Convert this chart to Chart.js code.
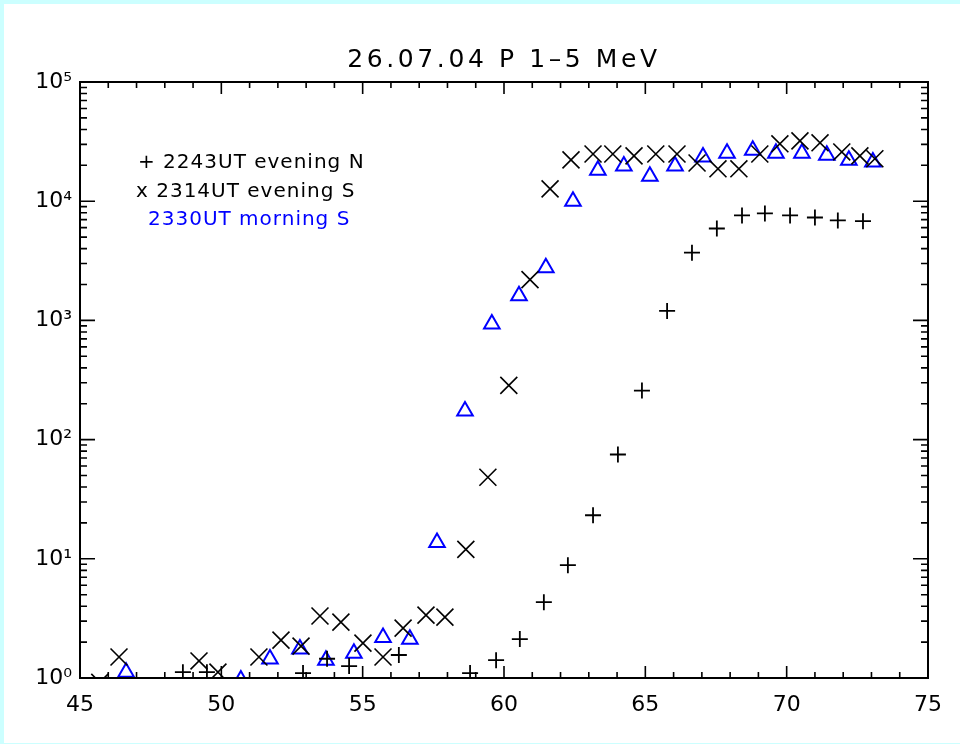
<!DOCTYPE html>
<html>
<head>
<meta charset="utf-8">
<script src="https://cdn.jsdelivr.net/npm/chart.js@4"></script>
<style>
  html, body { margin: 0; padding: 0; background: #ffffff; }
  #wrap { width: 960px; height: 744px; }
</style>
</head>
<body>
<div id="wrap"><canvas id="chart" width="960" height="744"></canvas></div>
<script>
// 26.07.04 P 1-5 MeV, three passes

const titleText = '26.07.04 P 1\u20135 MeV';

// + 2243UT evening N
const timeN = [48.64, 49.49, 52.89, 53.74, 54.52, 56.28, 58.80, 59.72, 60.56, 61.41, 62.26, 63.15, 64.03, 64.88, 65.77, 66.65, 67.53, 68.42, 69.23, 70.12, 71.00, 71.81, 72.70];
const fluxN = [1.12, 1.12, 1.10, 1.45, 1.26, 1.56, 1.10, 1.41, 2.12, 4.33, 8.84, 23.2, 75, 258, 1200, 3700, 5900, 7600, 7900, 7600, 7300, 6900, 6800];

// x 2314UT evening S
const timeS1 = [45.70, 46.38, 49.21, 49.88, 51.33, 52.11, 52.82, 53.49, 54.23, 55.01, 55.72, 56.43, 57.24, 57.91, 58.65, 59.43, 60.17, 60.92, 61.63, 62.37, 63.15, 63.85, 64.60, 65.37, 66.12, 66.83, 67.57, 68.31, 69.05, 69.76, 70.47, 71.18, 71.95, 72.59, 73.12];
const fluxS1 = [0.92, 1.50, 1.39, 1.12, 1.50, 2.08, 1.85, 3.31, 2.94, 1.96, 1.50, 2.62, 3.37, 3.24, 12.0, 48.3, 285, 2200, 12700, 22200, 24900, 24900, 24000, 24900, 24900, 20900, 18700, 18700, 24900, 30300, 32100, 30900, 25900, 24000, 22700];

// triangles 2330UT morning S
const timeS2 = [46.63, 50.69, 51.72, 52.78, 53.70, 54.69, 55.72, 56.67, 57.63, 58.62, 59.57, 60.53, 61.48, 62.44, 63.32, 64.24, 65.16, 66.05, 67.04, 67.89, 68.80, 69.62, 70.54, 71.42, 72.20, 73.05];
const fluxS2 = [1.12, 0.96, 1.44, 1.75, 1.41, 1.61, 2.19, 2.11, 13.7, 174, 935, 1610, 2760, 10000, 18200, 19700, 16200, 19700, 23500, 25200, 26800, 25200, 25200, 24300, 22100, 21300];

const seriesLabels = ['2243UT evening N', '2314UT evening S', '2330UT morning S'];
const legendPrefix = ['+ ', 'x ', ''];

const xTickValues = [45, 50, 55, 60, 65, 70, 75];
const yTickValues = [1, 10, 100, 1000, 10000, 100000];
const yTickLabels = ['10\u2070', '10\u00b9', '10\u00b2', '10\u00b3', '10\u2074', '10\u2075'];

const BLUE = '#0000ff';
const FONT = '"DejaVu Sans", sans-serif';

function toPoints(xs, ys) {
  return xs.map((x, i) => ({ x: x, y: ys[i] }));
}

// cyan frame, title, legend text, axis box with inward IDL ticks
const idlFrame = {
  id: 'idlFrame',
  beforeDraw(chart) {
    const ctx = chart.ctx;
    ctx.save();
    ctx.fillStyle = '#ccffff';
    ctx.fillRect(0, 0, chart.width, chart.height);
    ctx.fillStyle = '#ffffff';
    ctx.fillRect(4, 4, chart.width - 4, chart.height - 5);
    ctx.restore();
  },
  afterDraw(chart) {
    const ctx = chart.ctx;
    const a = chart.chartArea;
    const xs = chart.scales.x;
    const ys = chart.scales.y;
    ctx.save();
    ctx.strokeStyle = '#000';
    ctx.lineWidth = 2;
    ctx.strokeRect(a.left, a.top, a.right - a.left, a.bottom - a.top);

    ctx.lineWidth = 1.6;
    ctx.beginPath();
    // x ticks, every unit, major every 5
    for (let v = 45; v <= 75; v++) {
      const px = xs.getPixelForValue(v);
      const len = v % 5 === 0 ? 12 : 6;
      ctx.moveTo(px, a.bottom); ctx.lineTo(px, a.bottom - len);
      ctx.moveTo(px, a.top); ctx.lineTo(px, a.top + len);
    }
    // y ticks, decades and 2..9
    for (let d = 0; d < 5; d++) {
      for (let m = 1; m <= 9; m++) {
        const v = m * Math.pow(10, d);
        const py = ys.getPixelForValue(v);
        const len = m === 1 ? 15 : 7;
        ctx.moveTo(a.left, py); ctx.lineTo(a.left + len, py);
        ctx.moveTo(a.right, py); ctx.lineTo(a.right - len, py);
      }
    }
    ctx.stroke();

    // title
    ctx.fillStyle = '#000';
    ctx.font = '25px ' + FONT;
    ctx.letterSpacing = '3.6px';
    ctx.textAlign = 'center';
    ctx.textBaseline = 'middle';
    ctx.fillText(titleText, (a.left + a.right) / 2, 60);

    // legend text
    ctx.font = '20px ' + FONT;
    ctx.letterSpacing = '1px';
    ctx.textAlign = 'left';
    ctx.fillText(legendPrefix[0] + seriesLabels[0], 138, 163);
    ctx.fillText(legendPrefix[1] + seriesLabels[1], 136, 192);
    ctx.fillStyle = BLUE;
    ctx.fillText(legendPrefix[2] + seriesLabels[2], 148, 220);
    ctx.restore();
  }
};

new Chart(document.getElementById('chart'), {
  type: 'scatter',
  data: {
    datasets: [
      {
        label: seriesLabels[0],
        data: toPoints(timeN, fluxN),
        pointStyle: 'cross',
        pointRadius: 8,
        borderColor: '#000',
        borderWidth: 1.8,
        clip: 0
      },
      {
        label: seriesLabels[1],
        data: toPoints(timeS1, fluxS1),
        pointStyle: 'crossRot',
        pointRadius: 12,
        borderColor: '#000',
        borderWidth: 1.6,
        clip: 0
      },
      {
        label: seriesLabels[2],
        data: toPoints(timeS2, fluxS2),
        pointStyle: 'triangle',
        pointRadius: 9,
        borderColor: BLUE,
        backgroundColor: 'rgba(0,0,0,0)',
        borderWidth: 2,
        clip: 0
      }
    ]
  },
  options: {
    responsive: false,
    animation: false,
    layout: { padding: { left: 0, top: 82, right: 32, bottom: 0 } },
    plugins: {
      legend: { display: false },
      tooltip: { enabled: false },
      title: { display: false }
    },
    scales: {
      x: {
        type: 'linear',
        min: 45,
        max: 75,
        grid: { display: false, drawTicks: false },
        border: { display: false },
        afterBuildTicks: (scale) => { scale.ticks = xTickValues.map(v => ({ value: v })); },
        afterFit: (scale) => { scale.height = 66; },
        ticks: {
          color: '#000',
          padding: 14,
          maxRotation: 0,
          font: { family: FONT, size: 22 }
        }
      },
      y: {
        type: 'logarithmic',
        min: 1,
        max: 100000,
        grid: { display: false, drawTicks: false },
        border: { display: false },
        afterBuildTicks: (scale) => { scale.ticks = yTickValues.map(v => ({ value: v })); },
        afterFit: (scale) => { scale.width = 80; },
        ticks: {
          color: '#000',
          padding: 8,
          font: { family: FONT, size: 22 },
          callback: (v) => {
            const i = yTickValues.indexOf(v);
            return i >= 0 ? yTickLabels[i] : '';
          }
        }
      }
    }
  },
  plugins: [idlFrame]
});
</script>
</body>
</html>
